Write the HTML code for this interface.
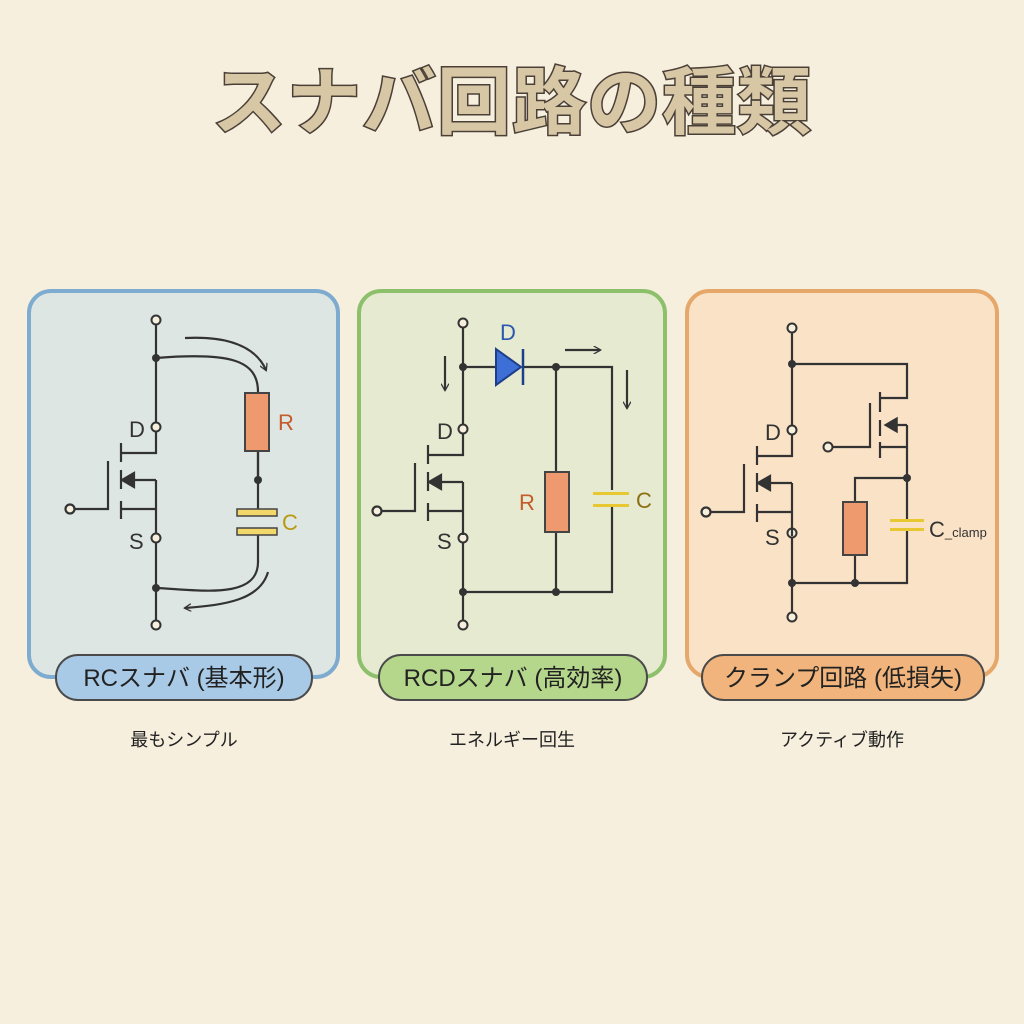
<!DOCTYPE html>
<html><head><meta charset="utf-8"><style>
html,body{margin:0;padding:0;background:#f7efdd;}
svg{display:block;}
text{font-family:"Liberation Sans","Noto Sans CJK JP",sans-serif;}
</style></head><body>
<svg width="1024" height="1024" viewBox="0 0 1024 1024" xmlns="http://www.w3.org/2000/svg">
<defs>
<marker id="ah" viewBox="0 0 10 10" refX="8" refY="5" markerWidth="8" markerHeight="8" orient="auto-start-reverse" markerUnits="userSpaceOnUse">
<path d="M0,0 L9,5 L0,10" fill="none" stroke="#333" stroke-width="1.6"/></marker>
<g id="mos" fill="none" stroke="#333" stroke-width="2.2">
<path d="M0,5 V26 H-35"/>
<path d="M-35,16 V35 M-35,43 V62 M-35,74 V92"/>
<path d="M-48,34 V82 H-82"/>
<path d="M0,82 H-35"/>
<path d="M0,53 H-28"/>
<path d="M0,53 V82 M0,82 V106"/>
<path d="M-34,53 L-22,46 L-22,60 Z" fill="#333"/>
<circle cx="-86" cy="82" r="4.5" fill="#f7efdd"/>
</g>
</defs>
<rect width="1024" height="1024" fill="#f7efdd"/>
<text x="512" y="128" text-anchor="middle" font-size="74" font-weight="bold" fill="#d8c7a5" stroke="#4a4038" stroke-width="3" paint-order="stroke" letter-spacing="1">スナバ回路の種類</text>

<!-- Panel 1 -->
<rect x="29" y="291" width="309" height="386" rx="22" fill="#dde6e2" stroke="#7eabd0" stroke-width="4"/>
<rect x="56" y="655" width="256" height="45" rx="22" fill="#a8cae6" stroke="#4a4a4a" stroke-width="2"/>
<text x="184" y="686" text-anchor="middle" font-size="24" fill="#222">RCスナバ (基本形)</text>
<g fill="none" stroke="#333" stroke-width="2.2">
<path d="M156,325 V422 M156,543 V620"/>
<path d="M156,358 C230,352 258,360 258,392"/>
<path d="M258,451 V510 M258,535 V562 C258,600 200,590 156,588"/>
<path d="M185,338 C225,336 255,345 266,370" marker-end="url(#ah)"/>
<path d="M268,572 C260,600 225,605 185,608" marker-end="url(#ah)"/>
</g>
<circle cx="156" cy="320" r="4.5" fill="#f7efdd" stroke="#333" stroke-width="2"/>
<circle cx="156" cy="427" r="4.5" fill="#f7efdd" stroke="#333" stroke-width="2"/>
<circle cx="156" cy="538" r="4.5" fill="#f7efdd" stroke="#333" stroke-width="2"/>
<circle cx="156" cy="625" r="4.5" fill="#f7efdd" stroke="#333" stroke-width="2"/>
<circle cx="156" cy="358" r="4" fill="#333"/><circle cx="156" cy="588" r="4" fill="#333"/><circle cx="258" cy="480" r="4" fill="#333"/>
<path d="M258,451 V480" stroke="#333" stroke-width="2.2"/>
<use href="#mos" x="156" y="427"/>
<rect x="245" y="393" width="24" height="58" fill="#ef9a6e" stroke="#444" stroke-width="2"/>
<rect x="237" y="509" width="40" height="7" fill="#f2d76a" stroke="#444" stroke-width="1.5"/>
<rect x="237" y="528" width="40" height="7" fill="#f2d76a" stroke="#444" stroke-width="1.5"/>
<text x="278" y="430" font-size="22" fill="#c55a2a">R</text>
<text x="282" y="530" font-size="22" fill="#b89a10">C</text>
<text x="129" y="437" font-size="22" fill="#333">D</text>
<text x="129" y="549" font-size="22" fill="#333">S</text>

<!-- Panel 2 -->
<rect x="359" y="291" width="306" height="386" rx="22" fill="#e6ead0" stroke="#8cc06a" stroke-width="4"/>
<rect x="379" y="655" width="268" height="45" rx="22" fill="#b5d78c" stroke="#4a4a4a" stroke-width="2"/>
<text x="513" y="686" text-anchor="middle" font-size="24" fill="#222">RCDスナバ (高効率)</text>
<g fill="none" stroke="#333" stroke-width="2.2">
<path d="M463,328 V424 M463,543 V620"/>
<path d="M463,367 H495 M523,367 H612 V592 H463"/>
<path d="M556,367 V472 M556,532 V592"/>
<path d="M445,356 V390" marker-end="url(#ah)"/>
<path d="M565,350 H600" marker-end="url(#ah)"/>
<path d="M627,370 V408" marker-end="url(#ah)"/>
</g>
<path d="M496,349 L521,367 L496,385 Z" fill="#3d6fd6" stroke="#1d3f8a" stroke-width="2"/>
<path d="M523,349 V385" stroke="#1d3f8a" stroke-width="2.5"/>
<text x="500" y="340" font-size="22" fill="#2a58b0">D</text>
<circle cx="463" cy="323" r="4.5" fill="#f7efdd" stroke="#333" stroke-width="2"/>
<circle cx="463" cy="429" r="4.5" fill="#f7efdd" stroke="#333" stroke-width="2"/>
<circle cx="463" cy="538" r="4.5" fill="#f7efdd" stroke="#333" stroke-width="2"/>
<circle cx="463" cy="625" r="4.5" fill="#f7efdd" stroke="#333" stroke-width="2"/>
<circle cx="463" cy="367" r="4" fill="#333"/><circle cx="556" cy="367" r="4" fill="#333"/>
<circle cx="463" cy="592" r="4" fill="#333"/><circle cx="556" cy="592" r="4" fill="#333"/>
<use href="#mos" x="463" y="429"/>
<rect x="545" y="472" width="24" height="60" fill="#ef9a6e" stroke="#444" stroke-width="2"/>
<rect x="596" y="490" width="34" height="16" fill="#e6ead0"/>
<rect x="593" y="492" width="36" height="3" fill="#e8c830"/><rect x="593" y="504" width="36" height="3" fill="#e8c830"/>
<text x="519" y="510" font-size="22" fill="#c55a2a">R</text>
<text x="636" y="508" font-size="22" fill="#8a7010">C</text>
<text x="437" y="439" font-size="22" fill="#333">D</text>
<text x="437" y="549" font-size="22" fill="#333">S</text>

<!-- Panel 3 -->
<rect x="687" y="291" width="310" height="386" rx="22" fill="#fae2c6" stroke="#e6a86a" stroke-width="4"/>
<rect x="702" y="655" width="282" height="45" rx="22" fill="#f0b47c" stroke="#4a4a4a" stroke-width="2"/>
<text x="843" y="686" text-anchor="middle" font-size="24" fill="#222">クランプ回路 (低損失)</text>
<g fill="none" stroke="#333" stroke-width="2.2">
<path d="M792,333 V426 M792,538 V612"/>
<path d="M792,364 H907 V398 H880"/>
<path d="M880,392 V412 M880,420 V436 M880,442 V458"/>
<path d="M870,403 V447 H832"/>
<path d="M907,425 H887 M907,425 V478 M880,447 H907"/>
<path d="M907,478 H855 V502 M855,555 V583"/>
<path d="M907,478 V520 M907,530 V583 H792"/>
</g>
<path d="M885,425 L897,418 L897,432 Z" fill="#333" stroke="#333" stroke-width="1.5"/>
<circle cx="828" cy="447" r="4.5" fill="#f7efdd" stroke="#333" stroke-width="2"/>
<circle cx="792" cy="328" r="4.5" fill="#f7efdd" stroke="#333" stroke-width="2"/>
<circle cx="792" cy="430" r="4.5" fill="#f7efdd" stroke="#333" stroke-width="2"/>
<circle cx="792" cy="533" r="4.5" fill="#f7efdd" stroke="#333" stroke-width="2"/>
<circle cx="792" cy="617" r="4.5" fill="#f7efdd" stroke="#333" stroke-width="2"/>
<circle cx="792" cy="364" r="4" fill="#333"/><circle cx="907" cy="478" r="4" fill="#333"/>
<circle cx="792" cy="583" r="4" fill="#333"/><circle cx="855" cy="583" r="4" fill="#333"/>
<use href="#mos" x="792" y="430"/>
<rect x="843" y="502" width="24" height="53" fill="#ef9a6e" stroke="#444" stroke-width="2"/>
<rect x="890" y="519" width="34" height="3" fill="#e8c830"/><rect x="890" y="528" width="34" height="3" fill="#e8c830"/>
<text x="929" y="537" font-size="22" fill="#333">C<tspan font-size="13">_clamp</tspan></text>
<text x="765" y="440" font-size="22" fill="#333">D</text>
<text x="765" y="545" font-size="22" fill="#333">S</text>

<text x="184" y="746" text-anchor="middle" font-size="18" fill="#222">最もシンプル</text>
<text x="512" y="746" text-anchor="middle" font-size="18" fill="#222">エネルギー回生</text>
<text x="842" y="746" text-anchor="middle" font-size="18" fill="#222">アクティブ動作</text>
</svg>
</body></html>
